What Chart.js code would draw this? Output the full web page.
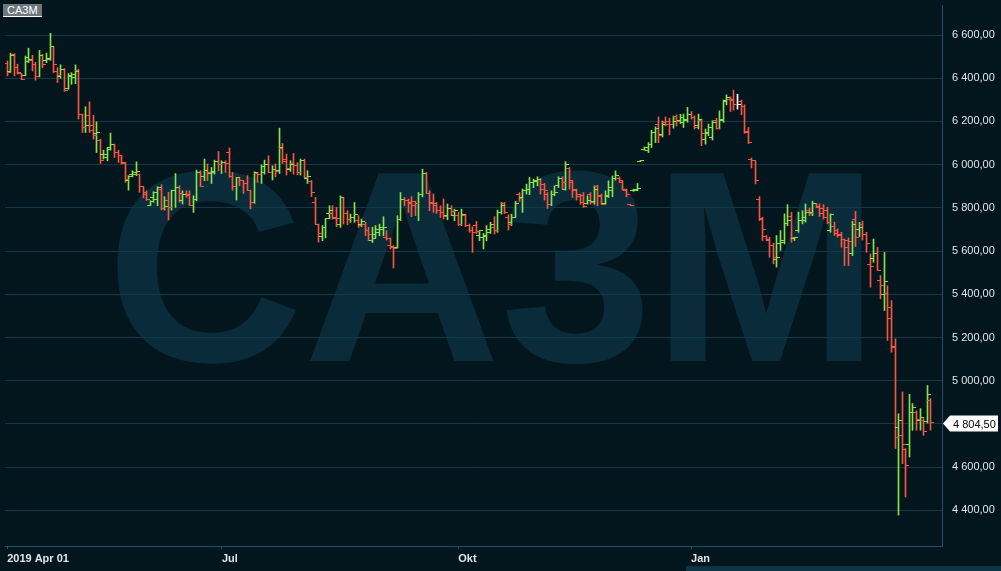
<!DOCTYPE html>
<html>
<head>
<meta charset="utf-8">
<title>CA3M</title>
<script src="https://cdn.jsdelivr.net/npm/chart.js@4.4.1/dist/chart.umd.min.js"></script>
<style>
  html, body { margin: 0; padding: 0; background: #03161e; }
  #wrap { position: relative; width: 1001px; height: 571px; overflow: hidden; }
  #symbol {
    position: absolute; left: 3px; top: 4px; height: 12px; padding: 0 4px;
    background: #6d787e; color: #ffffff; border-bottom: 1px solid #ffffff;
    font: 11px "Liberation Sans", Arial, sans-serif; line-height: 12px;
  }
  #scroll { position: absolute; left: 686px; top: 566px; width: 315px; height: 5px; background: #0d3444; }
</style>
</head>
<body>
<div id="wrap">
  <canvas id="ohlcChart" width="1001" height="571"></canvas>
  <div id="symbol">CA3M</div>
  <div id="scroll"></div>
</div>
<script>
// CA3M daily OHLC, 2019-04-01 .. 2020-03

const symbolName = 'CA3M';

const opens = [
  6469, 6431, 6511, 6449, 6422, 6411, 6477, 6483, 6462, 6409, 6506, 6483, 6486, 6545, 6431, 6406, 6442, 6352, 6406, 6403, 6434, 6231, 6172, 6226, 6180,
  6144, 6113, 6045, 6033, 6080, 6092, 6057, 6041, 6007, 5926, 5953, 5956, 5956, 5898, 5872, 5813, 5849, 5841, 5887, 5798, 5833, 5802, 5879,
  5895, 5833, 5864, 5864, 5810, 5841, 5964, 5944, 5975, 5959, 5964, 6015, 6003, 6010, 6057, 5944, 5898, 5941, 5926, 5913, 5882, 5826, 5959, 5953,
  5990, 6003, 5964, 5979, 5972, 6077, 6026, 5979, 6006, 5995, 5964, 6018, 5938, 5923, 5826, 5725, 5667, 5710, 5772, 5772, 5756, 5725, 5846,
  5774, 5748, 5756, 5741, 5722, 5722, 5697, 5651, 5679, 5702, 5702, 5664, 5625, 5620, 5617, 5748, 5841, 5833, 5825, 5830, 5818, 5864, 5959, 5867,
  5825, 5810, 5787, 5779, 5764, 5799, 5764, 5764, 5722, 5764, 5718, 5697, 5718, 5671, 5661, 5671, 5702, 5710, 5694, 5779, 5821, 5756, 5733, 5756,
  5860, 5848, 5879, 5887, 5917, 5922, 5933, 5910, 5864, 5817, 5864, 5902, 5937, 5887, 5984, 5917, 5882, 5851, 5856, 5820, 5864, 5830,
  5900, 5851, 5820, 5856, 5882, 5938, 5938, 5917, 5882, 5815, 5879, 5887, 6016, 6072, 6064, 6095, 6148, 6187, 6141, 6195, 6199, 6187, 6221, 6205,
  6195, 6211, 6231, 6219, 6180, 6206, 6118, 6149, 6126, 6206, 6169, 6211, 6295, 6303, 6303, 6280, 6292, 6268, 6154, 6026, 6018,
  5841, 5744, 5667, 5649, 5626, 5559, 5633, 5641, 5729, 5760, 5657, 5695, 5741, 5741, 5790, 5780, 5818, 5803, 5795, 5790, 5695, 5713, 5695, 5672, 5652,
  5651, 5587, 5744, 5702, 5722, 5679, 5537, 5564, 5590, 5466, 5399, 5402, 5337, 5158, 4783, 4747, 4681, 4706, 4855, 4855, 4817, 4817, 4809, 4909
];

const highs = [
  6480, 6516, 6514, 6465, 6423, 6503, 6539, 6506, 6474, 6529, 6511, 6516, 6608, 6548, 6449, 6462, 6445, 6422, 6426, 6462, 6442, 6234, 6268, 6291, 6229,
  6198, 6118, 6067, 6080, 6146, 6095, 6067, 6044, 6010, 5949, 5972, 6013, 5956, 5898, 5879, 5833, 5875, 5898, 5907, 5852, 5872, 5882, 5959,
  5903, 5879, 5879, 5879, 5856, 5975, 5972, 6026, 6003, 5987, 6021, 6061, 6018, 6018, 6077, 5964, 5941, 5941, 5926, 5949, 5882, 5967, 5964, 5999,
  6021, 6041, 5995, 6003, 6169, 6098, 6049, 6018, 6052, 6010, 6026, 6026, 5972, 5926, 5849, 5725, 5718, 5749, 5810, 5810, 5803, 5856, 5849,
  5787, 5771, 5825, 5764, 5748, 5733, 5710, 5710, 5718, 5725, 5759, 5694, 5661, 5625, 5764, 5871, 5848, 5841, 5852, 5830, 5871, 5979, 5964, 5879,
  5864, 5825, 5810, 5841, 5818, 5810, 5794, 5779, 5794, 5771, 5725, 5713, 5737, 5694, 5682, 5718, 5733, 5759, 5790, 5825, 5825, 5768, 5771, 5830,
  5871, 5887, 5910, 5941, 5933, 5944, 5936, 5913, 5871, 5879, 5902, 5944, 5944, 6014, 5987, 5925, 5887, 5864, 5871, 5856, 5871, 5902,
  5905, 5864, 5879, 5925, 5948, 5971, 5944, 5925, 5887, 5815, 5887, 5913, 6020, 6082, 6102, 6159, 6175, 6221, 6202, 6221, 6215, 6225, 6230, 6233,
  6234, 6265, 6246, 6226, 6234, 6211, 6165, 6188, 6203, 6215, 6249, 6299, 6323, 6314, 6345, 6326, 6299, 6277, 6172, 6031, 6018,
  5852, 5757, 5672, 5664, 5636, 5672, 5695, 5772, 5815, 5780, 5664, 5780, 5787, 5818, 5800, 5831, 5821, 5818, 5815, 5803, 5772, 5734, 5703, 5687, 5656,
  5661, 5738, 5784, 5733, 5738, 5687, 5587, 5656, 5617, 5487, 5594, 5440, 5371, 5194, 4847, 4948, 4686, 4937, 4894, 4860, 4871, 4824, 4978, 4917
];

const lows = [
  6411, 6426, 6411, 6419, 6394, 6411, 6472, 6434, 6391, 6406, 6449, 6472, 6483, 6426, 6380, 6400, 6339, 6349, 6372, 6375, 6211, 6149, 6149, 6149, 6118,
  6056, 6006, 6026, 6018, 6067, 6033, 6010, 6003, 5918, 5882, 5944, 5949, 5872, 5846, 5833, 5810, 5826, 5810, 5790, 5790, 5744, 5790, 5802,
  5826, 5818, 5849, 5810, 5779, 5833, 5898, 5926, 5926, 5913, 5956, 5972, 5959, 5964, 5941, 5882, 5836, 5903, 5867, 5882, 5795, 5821, 5918, 5913,
  5956, 5964, 5929, 5944, 5959, 6006, 5952, 5969, 5956, 5953, 5952, 5941, 5913, 5852, 5725, 5641, 5648, 5661, 5749, 5749, 5713, 5710, 5725,
  5722, 5733, 5733, 5710, 5713, 5671, 5648, 5640, 5661, 5671, 5671, 5651, 5610, 5522, 5614, 5741, 5810, 5779, 5759, 5764, 5741, 5851, 5867, 5787,
  5779, 5774, 5756, 5748, 5745, 5764, 5741, 5718, 5718, 5713, 5687, 5594, 5682, 5648, 5610, 5648, 5682, 5679, 5687, 5771, 5774, 5697, 5718, 5756,
  5830, 5779, 5864, 5861, 5894, 5902, 5864, 5836, 5797, 5810, 5856, 5894, 5887, 5882, 5887, 5848, 5836, 5817, 5802, 5817, 5817, 5817,
  5810, 5817, 5817, 5848, 5851, 5928, 5917, 5882, 5851, 5810, 5876, 5879, 6016, 6067, 6056, 6079, 6102, 6102, 6128, 6179, 6138, 6169, 6179, 6190,
  6172, 6196, 6211, 6165, 6165, 6088, 6095, 6134, 6114, 6165, 6165, 6196, 6277, 6246, 6252, 6257, 6231, 6145, 6098, 5985, 5911,
  5741, 5649, 5649, 5572, 5541, 5526, 5603, 5633, 5718, 5641, 5649, 5687, 5726, 5734, 5764, 5764, 5800, 5760, 5749, 5726, 5687, 5672, 5664, 5618, 5533,
  5533, 5579, 5621, 5667, 5651, 5594, 5433, 5548, 5510, 5379, 5325, 5186, 5132, 4686, 4378, 4616, 4462, 4647, 4771, 4771, 4771, 4747, 4804, 4771
];

const closes = [
  6426, 6505, 6449, 6426, 6395, 6496, 6485, 6465, 6406, 6506, 6465, 6491, 6549, 6465, 6411, 6442, 6345, 6411, 6419, 6431, 6234, 6172, 6180, 6160, 6134,
  6149, 6021, 6047, 6072, 6095, 6057, 6041, 6010, 5933, 5944, 5964, 5967, 5898, 5864, 5841, 5830, 5870, 5892, 5798, 5806, 5802, 5879, 5892,
  5867, 5864, 5856, 5810, 5841, 5964, 5898, 5975, 5964, 5967, 6015, 6003, 6010, 6006, 5944, 5898, 5941, 5926, 5913, 5882, 5826, 5964, 5953, 5964,
  6003, 5964, 5979, 5967, 6080, 6015, 5984, 6003, 5995, 5964, 6018, 5941, 5944, 5872, 5725, 5682, 5710, 5749, 5787, 5753, 5749, 5846, 5772,
  5744, 5756, 5771, 5718, 5738, 5697, 5679, 5656, 5687, 5707, 5710, 5656, 5617, 5614, 5744, 5841, 5833, 5818, 5810, 5821, 5864, 5959, 5867, 5821,
  5821, 5787, 5779, 5759, 5799, 5784, 5790, 5725, 5771, 5718, 5694, 5687, 5691, 5694, 5667, 5687, 5722, 5694, 5779, 5810, 5779, 5722, 5756, 5821,
  5845, 5882, 5887, 5918, 5925, 5933, 5887, 5882, 5817, 5864, 5871, 5937, 5917, 5999, 5925, 5887, 5860, 5825, 5805, 5836, 5825, 5887,
  5856, 5817, 5851, 5894, 5938, 5948, 5925, 5887, 5860, 5812, 5882, 5891, 6020, 6080, 6095, 6148, 6169, 6133, 6187, 6187, 6187, 6199, 6202, 6218,
  6206, 6234, 6219, 6172, 6211, 6142, 6142, 6172, 6196, 6169, 6203, 6292, 6311, 6299, 6280, 6280, 6268, 6149, 6103, 6018, 5926,
  5749, 5698, 5652, 5626, 5569, 5569, 5650, 5729, 5741, 5661, 5661, 5741, 5757, 5780, 5772, 5821, 5806, 5772, 5757, 5734, 5769, 5683, 5677, 5652, 5618,
  5645, 5725, 5661, 5708, 5679, 5633, 5528, 5590, 5510, 5440, 5460, 5286, 5155, 4737, 4817, 4706, 4609, 4855, 4878, 4820, 4832, 4763, 4937, 4804.5
];

// bar index of each month tick and its label
const monthTicks = [0, 60, 126, 191];
const monthLabels = ['2019 Apr 01', 'Jul', 'Okt', 'Jan'];

// price grid
const priceTicks = [4400, 4600, 4800, 5000, 5200, 5400, 5600, 5800, 6000, 6200, 6400, 6600];
const priceMin = 4235;
const priceMax = 6739;

const COLORS = {
  bg: '#03161e',
  grid: '#0f3a49',
  axis: '#1b5468',
  watermark: '#0a2b39',
  up: '#84e24c',
  down: '#f7553f',
  flat: '#ffffff',
  text: '#dfe5e8'
};
const FONT = '"Liberation Sans", Arial, sans-serif';

function barColor(i) {
  if (closes[i] > opens[i]) return COLORS.up;
  if (closes[i] < opens[i]) return COLORS.down;
  return COLORS.flat;
}

// 7x1 canvas used as point style: left half = open tick, right half = close tick
function makeTick(color, side) {
  const c = document.createElement('canvas');
  c.width = 7;
  c.height = 1;
  const g = c.getContext('2d');
  g.fillStyle = color;
  if (side === 'open') g.fillRect(0, 0, 4, 1);
  else g.fillRect(3, 0, 4, 1);
  return c;
}

const tickStyles = {};
[COLORS.up, COLORS.down, COLORS.flat].forEach(col => {
  tickStyles[col] = { open: makeTick(col, 'open'), close: makeTick(col, 'close') };
});

function formatPrice(v) {
  const parts = v.toFixed(2).split('.');
  return parts[0].replace(/\B(?=(\d{3})+(?!\d))/g, ' ') + ',' + parts[1];
}

const barColors = closes.map((c, i) => barColor(i));

// background + big symbol watermark, under the grid
const backdrop = {
  id: 'backdrop',
  beforeDraw(chart) {
    const ctx = chart.ctx;
    ctx.save();
    ctx.fillStyle = COLORS.bg;
    ctx.fillRect(0, 0, chart.width, chart.height);
    ctx.font = 'bold 273px ' + FONT;
    ctx.fillStyle = COLORS.watermark;
    ctx.textAlign = 'center';
    ctx.textBaseline = 'alphabetic';
    ctx.fillText(symbolName, 493, 361);
    ctx.restore();
  }
};

// snap bars and ticks to whole pixels so the 1px lines stay sharp
const pixelSnap = {
  id: 'pixelSnap',
  beforeDatasetsDraw(chart) {
    chart.ctx.imageSmoothingEnabled = false;
    chart.getSortedVisibleDatasetMetas().forEach(meta => {
      meta.data.forEach(el => {
        el.x = Math.floor(el.x) + 0.5;
        if (meta.type === 'line') el.y = Math.floor(el.y) + 0.5;
      });
    });
  }
};

// last price flag on the right axis
const lastPriceTag = {
  id: 'lastPriceTag',
  afterDraw(chart) {
    const ctx = chart.ctx;
    const last = closes[closes.length - 1];
    const y = Math.round(chart.scales.y.getPixelForValue(last)) + 0.5;
    const x = chart.chartArea.right + 1;
    ctx.save();
    ctx.beginPath();
    ctx.moveTo(x, y);
    ctx.lineTo(x + 7, y - 8);
    ctx.lineTo(x + 55, y - 8);
    ctx.lineTo(x + 55, y + 8);
    ctx.lineTo(x + 7, y + 8);
    ctx.closePath();
    ctx.fillStyle = '#ffffff';
    ctx.fill();
    ctx.fillStyle = '#000000';
    ctx.font = '11px ' + FONT;
    ctx.textBaseline = 'middle';
    ctx.fillText(formatPrice(last), x + 10, y + 1);
    ctx.restore();
  }
};

new Chart(document.getElementById('ohlcChart'), {
  type: 'bar',
  data: {
    datasets: [
      {
        type: 'bar',
        data: lows.map((l, i) => ({ x: i, y: [l, highs[i]] })),
        backgroundColor: barColors,
        barThickness: 1,
        borderWidth: 0,
        order: 3
      },
      {
        type: 'line',
        data: opens.map((v, i) => ({ x: i, y: v })),
        showLine: false,
        pointRadius: 1,
        pointStyle: barColors.map(c => tickStyles[c].open),
        order: 2
      },
      {
        type: 'line',
        data: closes.map((v, i) => ({ x: i, y: v })),
        showLine: false,
        pointRadius: 1,
        pointStyle: barColors.map(c => tickStyles[c].close),
        order: 1
      }
    ]
  },
  options: {
    responsive: false,
    animation: false,
    events: [],
    layout: { padding: 0 },
    plugins: {
      legend: { display: false },
      tooltip: { enabled: false }
    },
    scales: {
      x: {
        type: 'linear',
        min: -0.6,
        max: 261.1,
        offset: false,
        afterBuildTicks: (scale) => { scale.ticks = monthTicks.map(v => ({ value: v })); },
        afterFit: (scale) => {
          scale.height = 25;
          scale.paddingLeft = 0;
          scale.paddingRight = 0;
        },
        grid: { display: true, offset: false, drawOnChartArea: false, drawTicks: true, tickLength: 3, color: COLORS.axis },
        border: { display: true, color: COLORS.axis, width: 1 },
        ticks: {
          autoSkip: false,
          maxRotation: 0,
          align: 'start',
          padding: 3,
          color: COLORS.text,
          font: { family: FONT, size: 11, weight: 'bold' },
          callback: (v) => monthLabels[monthTicks.indexOf(v)]
        }
      },
      y: {
        position: 'right',
        min: priceMin,
        max: priceMax,
        afterBuildTicks: (scale) => { scale.ticks = priceTicks.map(v => ({ value: v })); },
        afterFit: (scale) => {
          scale.width = 59;
          scale.paddingTop = 0;
          scale.paddingBottom = 0;
        },
        grid: { color: COLORS.grid, lineWidth: 1, drawTicks: false },
        border: { display: true, color: COLORS.axis, width: 1 },
        ticks: {
          padding: 10,
          color: COLORS.text,
          font: { family: FONT, size: 11 },
          callback: (v) => formatPrice(v)
        }
      }
    }
  },
  plugins: [backdrop, pixelSnap, lastPriceTag]
});
</script>
</body>
</html>
